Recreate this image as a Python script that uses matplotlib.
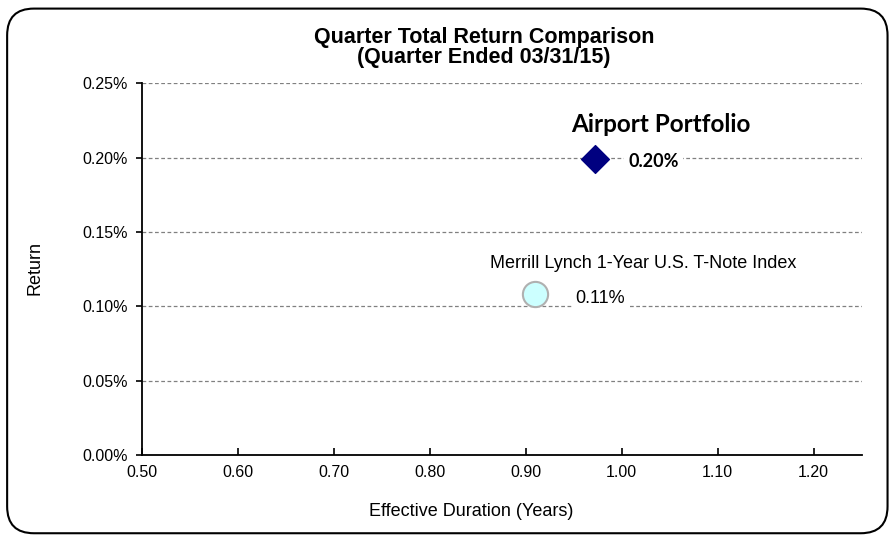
import matplotlib
matplotlib.use("Agg")
import matplotlib.pyplot as plt
from matplotlib.patches import FancyBboxPatch
from matplotlib.ticker import FuncFormatter

# data
names = ["Airport Portfolio", "Merrill Lynch 1-Year U.S. T-Note Index"]
duration = [0.972, 0.910]
ret = [0.199, 0.108]
ret_labels = ["0.20%", "0.11%"]

plt.rcParams["font.family"] = ["Liberation Sans", "DejaVu Sans"]

fig = plt.figure(figsize=(8.92, 5.37), dpi=100)
ax = fig.add_axes([0.159, 0.153, 0.807, 0.692])

# rounded border around the whole chart
fig.patches.append(FancyBboxPatch((0.008, 0.007), 0.987, 0.977,
                                  boxstyle="round,pad=0,rounding_size=0.03",
                                  transform=fig.transFigure, fill=False,
                                  edgecolor="black", linewidth=1.5,
                                  mutation_aspect=892 / 537))

ax.set_xlim(0.5, 1.25)
ax.set_ylim(0, 0.25)
ax.set_xticks([0.5, 0.6, 0.7, 0.8, 0.9, 1.0, 1.1, 1.2])
ax.set_yticks([0, 0.05, 0.10, 0.15, 0.20, 0.25])
ax.xaxis.set_major_formatter(FuncFormatter(lambda v, p: f"{v:.2f}"))
ax.yaxis.set_major_formatter(FuncFormatter(lambda v, p: f"{v:.2f}%"))
ax.tick_params(labelsize=11.5, width=1.2)
ax.tick_params(axis="x", direction="in", length=5, pad=7)
ax.tick_params(axis="y", direction="out", length=4, pad=6)
for s in ["top", "right"]:
    ax.spines[s].set_visible(False)
for s in ["left", "bottom"]:
    ax.spines[s].set_linewidth(1.3)
ax.grid(axis="y", linestyle=(0, (3, 2)), color="#808080", linewidth=0.9)
ax.set_axisbelow(True)

ax.scatter(duration[0], ret[0], marker="D", s=200, color="#000080", zorder=5)
ax.scatter(duration[1], ret[1], marker="o", s=330, facecolor="#ccffff",
           edgecolor="#b0b0b0", linewidth=1.5, zorder=5)

# point labels with white boxes hiding the gridlines
ax.text(1.007, ret[0] - 0.0015, ret_labels[0], fontsize=13,
        fontweight="bold", family=["Lato", "DejaVu Sans"], va="center",
        ha="left", bbox=dict(facecolor="white", edgecolor="none", pad=3), zorder=6)
ax.text(0.947, 0.222, names[0], fontsize=17.5,
        fontweight="bold", family=["Lato", "DejaVu Sans"], va="center", ha="left")
ax.text(0.952, ret[1] - 0.0025, ret_labels[1], fontsize=13,
        va="center", ha="left",
        bbox=dict(facecolor="white", edgecolor="none", pad=3), zorder=6)
ax.text(0.863, 0.129, names[1], fontsize=13, va="center", ha="left",
        bbox=dict(facecolor="white", edgecolor="none", pad=2), zorder=6)

fig.text(471 / 892, 1 - 512 / 537, "Effective Duration (Years)", fontsize=13,
         ha="center", va="center")
fig.text(35 / 892, 1 - 268 / 537, "Return", fontsize=13, rotation=90,
         ha="center", va="center")
fig.text(484 / 892, 1 - 38 / 537, "Quarter Total Return Comparison",
         ha="center", va="center", fontsize=15.5, fontweight="bold")
fig.text(484 / 892, 1 - 57 / 537, "(Quarter Ended 03/31/15)",
         ha="center", va="center", fontsize=15.5, fontweight="bold")

fig.savefig("out.png", dpi=100)
